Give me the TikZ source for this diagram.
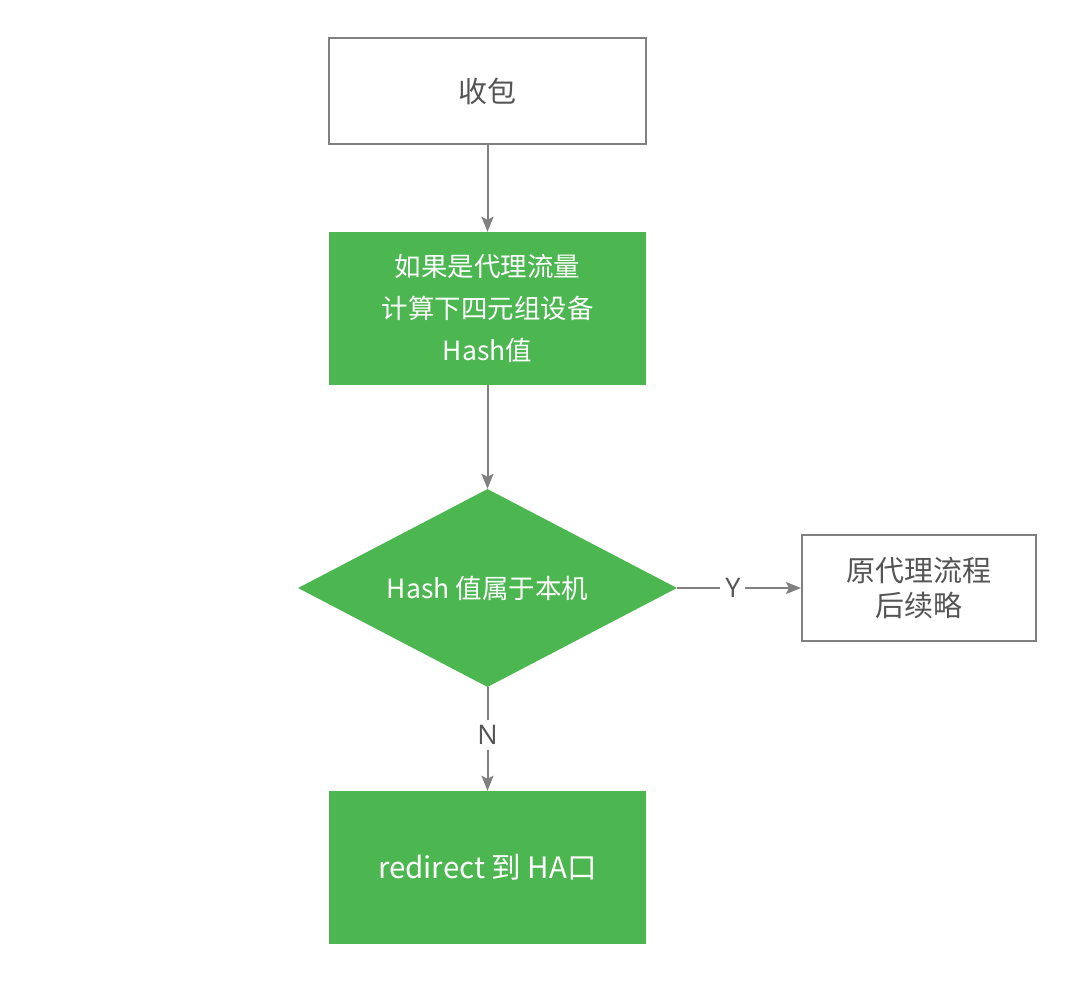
\documentclass[tikz,border=0pt]{standalone}
\usepackage{fontspec}
\setmainfont{Open Sans}
\newfontfamily\cjk{Noto Sans CJK SC}
\usetikzlibrary{shapes.geometric,arrows.meta}
\definecolor{flowgreen}{RGB}{76,182,80}
\definecolor{linegray}{RGB}{128,128,128}
\definecolor{textgray}{RGB}{85,85,85}
\begin{document}
\begin{tikzpicture}[x=1pt,y=-1pt,
  whitebox/.style={draw=linegray,line width=2pt,fill=white,minimum width=317pt,minimum height=106pt,inner sep=0pt,font=\fontsize{29}{35}\selectfont\cjk,text=textgray,align=center},
  greenbox/.style={fill=flowgreen,minimum width=317pt,minimum height=153pt,inner sep=0pt,font=\fontsize{26.5}{42}\selectfont\cjk,text=white,align=center},
  decision/.style={diamond,aspect=1.914,fill=flowgreen,minimum width=379pt,minimum height=198pt,inner sep=0pt,font=\fontsize{26.5}{40}\selectfont\cjk,text=white},
  conn/.style={draw=linegray,line width=2pt,-{Stealth[length=15pt,width=12pt,inset=3pt]}},
  lbl/.style={fill=white,font=\fontsize{27}{30}\selectfont,text=textgray,inner sep=5pt}]
\useasboundingbox (0,0) rectangle (1080,997);
\node[whitebox] (recv) at (487.5,91) {收包};
\node[greenbox] (hash) at (487.5,308.5) {如果是代理流量\\计算下四元组设备\\Hash值};
\node[decision] (dec) at (487.5,588) {Hash 值属于本机};
\node[whitebox,minimum width=234pt] (orig) at (919,588) {原代理流程\\后续略};
\node[greenbox,font=\fontsize{29.5}{40}\selectfont\cjk] (redir) at (487.5,867.5) {redirect 到 HA口};
\draw[conn] (recv) -- (hash);
\draw[conn] (hash) -- (dec);
\draw[conn] (dec.east) -- node[lbl,pos=0.45] {Y} (orig.west);
\draw[conn] (dec.south) -- node[lbl,pos=0.46] {N} (redir.north);
\end{tikzpicture}
\end{document}
